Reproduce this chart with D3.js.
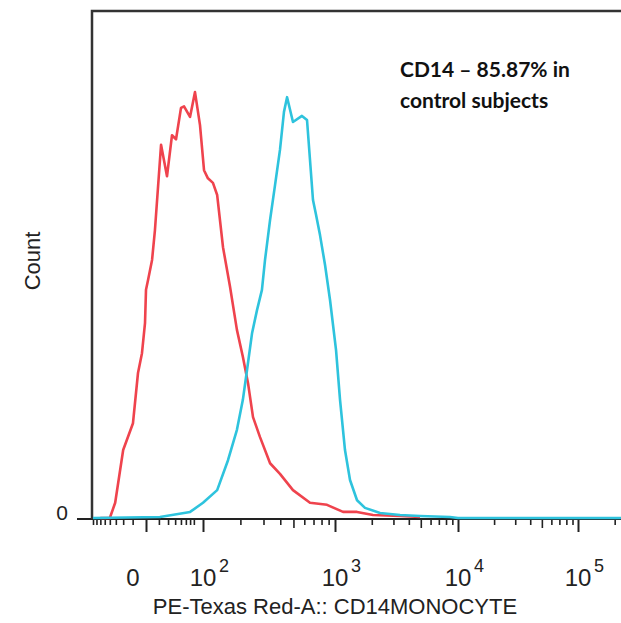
<!DOCTYPE html>
<html>
<head>
<meta charset="utf-8">
<script src="https://cdn.jsdelivr.net/npm/d3@7"></script>
<style>
  body { margin: 0; background: #fff; }
  svg { display: block; }
</style>
</head>
<body>
<div id="chart"></div>
<script>
// PE-Texas Red-A intensity (biex scale) vs count
const redSeries = [
  [-60, 0], [-40, 0], [-31, 3.0], [-20, 13.4], [-9.7, 18.7], [-5.5, 28.6],
  [-2.6, 32.5], [-0.6, 38.5], [0, 45.0], [1.3, 46.9], [4.2, 50.9], [6.5, 56.8],
  [12.1, 73.6], [18.7, 67.4], [25.3, 75.5], [31.4, 74.7], [40.1, 80.9],
  [46.1, 81.2], [59.8, 79.1], [73.3, 84.0], [89.2, 77.5], [102, 68.6],
  [110, 67.0], [121, 66.1], [131, 63.7], [146, 53.4], [166, 45.6],
  [188, 37.1], [209, 31.8], [229, 26.6], [250, 19.9], [282, 16.0],
  [336, 10.8], [398, 8.7], [496, 5.5], [660, 3.0], [876, 2.6],
  [1164, 1.2], [1516, 1.2], [2046, 0.6], [3394, 0.4], [4928, 0.2]
];

const blueSeries = [
  [-80, 0], [11, 0.2], [60, 1.2], [100, 3.0], [131, 5.5], [160, 11.4],
  [188, 17.4], [209, 23.3], [225, 29.2], [246, 36.5], [268, 41.0],
  [292, 45.0], [308, 50.9], [336, 58.8], [366, 65.7], [398, 72.6],
  [426, 80.1], [449, 83.0], [496, 78.1], [577, 79.3], [628, 78.5],
  [694, 62.7], [730, 59.8], [780, 55.8], [848, 49.9], [921, 43.0],
  [1020, 33.1], [1100, 23.3], [1208, 13.4], [1328, 7.5], [1516, 3.5],
  [1760, 2.0], [2334, 1.0], [3394, 0.6], [4928, 0.4], [8620, 0.2],
  [10000, 0], [100000, 0], [262144, 0]
];

const majorTicks = [0, 100, 1000, 10000, 100000];
const majorLabels = [
  { base: "0", exp: "" },
  { base: "10", exp: "2" },
  { base: "10", exp: "3" },
  { base: "10", exp: "4" },
  { base: "10", exp: "5" }
];
const xTitle = "PE-Texas Red-A:: CD14MONOCYTE";
const yTitle = "Count";
const note = ["CD14 \u2013 85.87% in", "control subjects"];

const width = 621;
const height = 623;

// biexponential-like display: piecewise symlog anchored on the decades
const x = d3.scaleSymlog()
  .constant(20)
  .domain([-80, 0, 100, 1000, 10000, 100000, 262144])
  .range([93, 146, 203, 335, 458, 578, 629]);

const y = d3.scaleLinear().domain([0, 100]).range([518, 11]);

const svg = d3.select("#chart")
  .append("svg")
  .attr("width", width)
  .attr("height", height)
  .style("font-family", "'Liberation Sans', Arial, sans-serif");

// minor ticks
const minorTicks = [];
const midTicks = [];
for (let v = -80; v < 0; v += 10) minorTicks.push(v);
for (let v = 10; v <= 70; v += 10) minorTicks.push(v);
[100, 1000, 10000, 100000].forEach((d) => {
  for (let k = 2; k <= 9; k++) {
    if (d * k > 262144) break;
    if (k === 5) midTicks.push(d * k);
    else minorTicks.push(d * k);
  }
});

const axisY = y(0) + 1;

svg.append("g")
  .attr("transform", `translate(0,${axisY})`)
  .call(d3.axisBottom(x).tickValues(minorTicks).tickSize(6).tickFormat(""))
  .call((g) => g.select(".domain").remove())
  .call((g) => g.selectAll(".tick line").attr("stroke", "#222").attr("stroke-width", 1.6));

svg.append("g")
  .attr("transform", `translate(0,${axisY})`)
  .call(d3.axisBottom(x).tickValues(midTicks).tickSize(9).tickFormat(""))
  .call((g) => g.select(".domain").remove())
  .call((g) => g.selectAll(".tick line").attr("stroke", "#222").attr("stroke-width", 1.6));

svg.append("g")
  .attr("transform", `translate(0,${axisY})`)
  .call(d3.axisBottom(x).tickValues(majorTicks).tickSize(13).tickFormat(""))
  .call((g) => g.select(".domain").remove())
  .call((g) => g.selectAll(".tick line").attr("stroke", "#222").attr("stroke-width", 2));

// axis line (extends left as the y "0" tick)
svg.append("line")
  .attr("x1", 77).attr("x2", width)
  .attr("y1", axisY).attr("y2", axisY)
  .attr("stroke", "#222").attr("stroke-width", 2);

// frame
svg.append("path")
  .attr("d", `M${x.range()[0] - 1},${axisY} V11 H${width + 5}`)
  .attr("fill", "none")
  .attr("stroke", "#333")
  .attr("stroke-width", 2.5);

// tick labels
const labels = svg.append("g").attr("fill", "#222");
majorTicks.forEach((t, i) => {
  const lx = t === 0 ? x(t) - 13 : x(t);
  labels.append("text")
    .attr("x", lx)
    .attr("y", 586)
    .attr("text-anchor", "middle")
    .style("font-size", "24px")
    .text(majorLabels[i].base);
  if (majorLabels[i].exp) {
    labels.append("text")
      .attr("x", lx + 16)
      .attr("y", 572)
      .style("font-size", "18px")
      .text(majorLabels[i].exp);
  }
});

svg.append("text")
  .attr("x", 68)
  .attr("y", 520)
  .attr("text-anchor", "end")
  .attr("fill", "#222")
  .style("font-size", "21px")
  .text("0");

svg.append("text")
  .attr("x", 335)
  .attr("y", 614)
  .attr("text-anchor", "middle")
  .attr("fill", "#222")
  .style("font-size", "22px")
  .text(xTitle);

svg.append("text")
  .attr("transform", "translate(40,261) rotate(-90)")
  .attr("text-anchor", "middle")
  .attr("fill", "#222")
  .style("font-size", "22px")
  .text(yTitle);

// histograms
const line = d3.line()
  .x((d) => x(d[0]))
  .y((d) => y(d[1]));

svg.append("path")
  .attr("d", line(redSeries))
  .attr("fill", "none")
  .attr("stroke", "#ef434d")
  .attr("stroke-width", 2.6)
  .attr("stroke-linejoin", "round");

svg.append("path")
  .attr("d", line(blueSeries))
  .attr("fill", "none")
  .attr("stroke", "#2ec3dd")
  .attr("stroke-width", 2.6)
  .attr("stroke-linejoin", "round");

// annotation
const noteG = svg.append("text")
  .attr("fill", "#111")
  .style("font-family", "Lato, 'Open Sans', sans-serif")
  .style("font-weight", "bold")
  .style("font-size", "21px");
note.forEach((s, i) => {
  noteG.append("tspan")
    .attr("x", 400)
    .attr("y", 77 + i * 31)
    .text(s);
});
</script>
</body>
</html>
